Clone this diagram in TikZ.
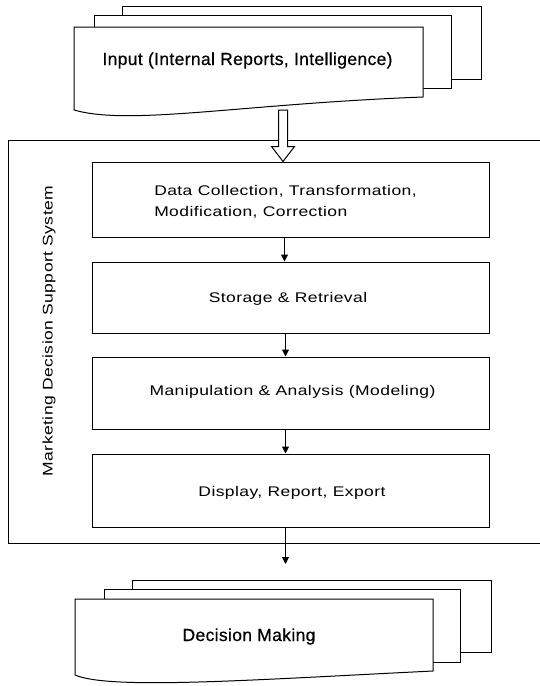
\documentclass[tikz,border=0pt]{standalone}
\usepackage{fontspec}
\setmainfont{Liberation Sans}
\usetikzlibrary{arrows.meta,calc}

\begin{document}
\begin{tikzpicture}[x=1pt,y=-1pt,line width=1pt,
  sheet/.style={draw,fill=white,line join=miter},
  stage/.style={draw,minimum width=397pt,minimum height=72pt,inner sep=0pt},
  widefont/.style={font=\fontsize{14}{20.5}\selectfont
    \addfontfeature{FakeStretch=1.25,LetterSpace=3}},
  stagetext/.style={inner sep=0pt,anchor=base,widefont},
  doclabel/.style={inner sep=0pt,anchor=base,
    font=\fontsize{17.5}{20}\selectfont\addfontfeature{LetterSpace=2,FakeBold=0.6}},
  flow/.style={-{Triangle[length=7pt,width=7pt]}}]
\useasboundingbox (0,0) rectangle (540,686);

% input document stack
\draw[sheet] (122,6) rectangle (481,79);
\draw[sheet] (94,15) rectangle (451,88);
\draw[sheet] (74,27) -- (423,27) -- (423,97)
  .. controls (240,104) and (130,126) .. (74,110) -- cycle;
\node[doclabel] (input) at (247.5,65) {Input (Internal Reports, Intelligence)};

% system frame, open on the right
\draw (540,140) -- (8,140) -- (8,543) -- (540,543);
\node[rotate=90,inner sep=0pt,widefont] (mdss)
  at (49,331) {Marketing Decision Support System};

% processing stages
\node[stage,minimum height=75pt] (b1) at (290.5,199.5) {};
\node[stage,minimum height=71pt] (b2) at (290.5,297.5) {};
\node[stage] (b3) at (290.5,393) {};
\node[stage,minimum height=73pt] (b4) at (290.5,490.5) {};

\node[stagetext,anchor=center,align=left] (t1) at (285.5,202)
  {Data Collection, Transformation,\\Modification, Correction};
\node[stagetext] (t2) at (288,302) {Storage \& Retrieval};
\node[stagetext] (t3) at (292.5,395) {Manipulation \& Analysis (Modeling)};
\node[stagetext] (t4) at (292,496) {Display, Report, Export};

% hollow arrow from the input into the system
\coordinate (hs) at (283,110);
\coordinate (ht) at (b1.north -| hs);
\draw[fill=white,line join=miter]
  ($(hs)+(-4.5,0)$) -- ($(ht)+(-4.5,-15)$) -- ($(ht)+(-11.5,-15)$) -- (ht)
  -- ($(ht)+(11.5,-15)$) -- ($(ht)+(4.5,-15)$) -- ($(hs)+(4.5,0)$) -- cycle;

% flow between stages
\draw[flow] ($(b1.south)+(-6,0)$) -- ($(b2.north)+(-6,0)$);
\draw[flow] ($(b2.south)+(-5,0)$) -- ($(b3.north)+(-5,0)$);
\draw[flow] ($(b3.south)+(-5,0)$) -- ($(b4.north)+(-5,0)$);
\coordinate (dmtop) at (285.5,564);
\draw[flow] ($(b4.south)+(-5,0)$) -- (dmtop);

% decision document stack
\draw[sheet] (132,580) rectangle (491,652);
\draw[sheet] (104,589) rectangle (460,662);
\draw[sheet] (75,599) -- (433,599) -- (433,671)
  .. controls (250,680) and (110,690) .. (75,675) -- cycle;
\node[doclabel] (dm) at (249,641) {Decision Making};
\end{tikzpicture}
\end{document}
